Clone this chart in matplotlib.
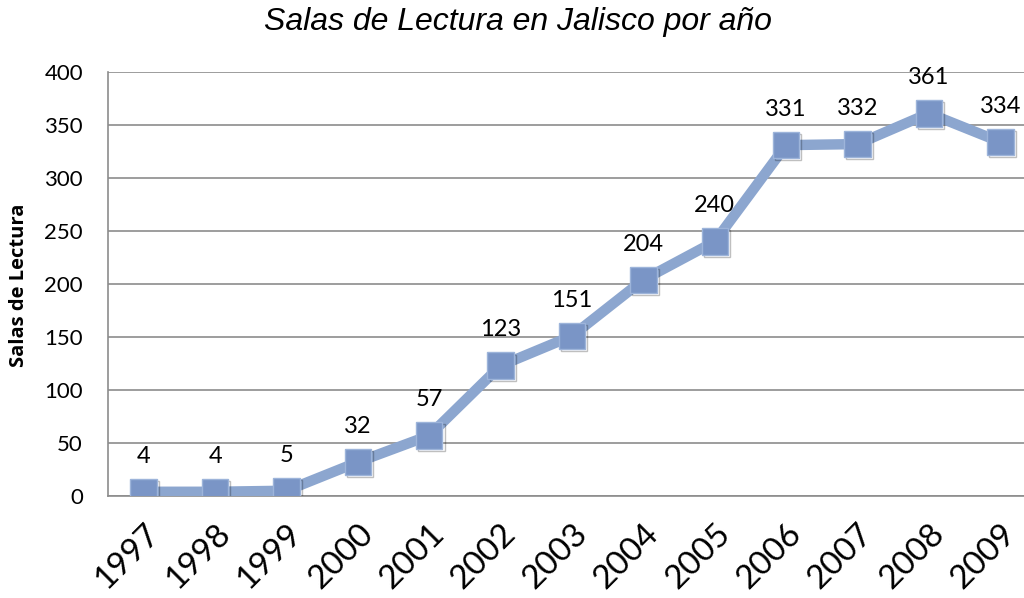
import matplotlib
matplotlib.use("Agg")
import matplotlib.pyplot as plt
import matplotlib.patheffects as pe

years = ["1997", "1998", "1999", "2000", "2001", "2002", "2003",
         "2004", "2005", "2006", "2007", "2008", "2009"]
salas = [4, 4, 5, 32, 57, 123, 151, 204, 240, 331, 332, 361, 334]
y_ticks = [0, 50, 100, 150, 200, 250, 300, 350, 400]

line_color = "#8CA6CF"
marker_color = "#7A95C6"
grid_color = "#8C8C8C"

fig = plt.figure(figsize=(10.24, 5.98), dpi=100)
# axes extends past the right edge like the original
ax = fig.add_axes([108 / 1024, 1 - 496 / 598, (1036 - 108) / 1024, (496 - 72) / 598])

x = list(range(len(years)))
ax.plot(x, salas, color=line_color, linewidth=7.5, solid_capstyle="butt", zorder=3)
ax.plot(x, salas, linestyle="none", marker="s", markersize=19,
        markerfacecolor=marker_color, markeredgecolor="#9DB4DA",
        markeredgewidth=1, zorder=4,
        path_effects=[pe.SimpleLineShadow(offset=(1.5, -1.5), alpha=0.25), pe.Normal()])

for xi, v in zip(x, salas):
    ax.annotate(str(v), (xi, v), xytext=(0, 21), textcoords="offset points",
                ha="center", va="baseline", fontsize=17, family="Lato")

ax.set_xlim(-0.5, len(years) - 0.5)
ax.set_ylim(0, 400)
ax.set_yticks(y_ticks)
ax.set_yticklabels([str(t) for t in y_ticks], fontsize=16, family="Lato")
ax.set_xticks(x)
ax.set_xticklabels(years, rotation=45, ha="right", rotation_mode="anchor",
                   fontsize=24, family="Lato")
ax.tick_params(axis="y", length=0, pad=18)
ax.tick_params(axis="x", length=0, pad=16)

ax.grid(True, axis="y", color=grid_color, linewidth=1.2)
ax.set_axisbelow(True)
for s in ["top", "right"]:
    ax.spines[s].set_visible(False)
ax.spines["left"].set_color(grid_color)
ax.spines["bottom"].set_color(grid_color)
ax.spines["left"].set_linewidth(1.2)
ax.spines["bottom"].set_linewidth(1.2)

fig.text(19 / 1024, 1 - 285 / 598, "Salas de Lectura", rotation=90,
         ha="center", va="center", fontsize=14.5, fontweight="bold", family="Open Sans")
fig.text(518 / 1024, 1 - 22 / 598, "Salas de Lectura en Jalisco por año",
         ha="center", va="center", fontsize=23, style="italic",
         family="Liberation Sans")

plt.savefig("out.png", dpi=100)
